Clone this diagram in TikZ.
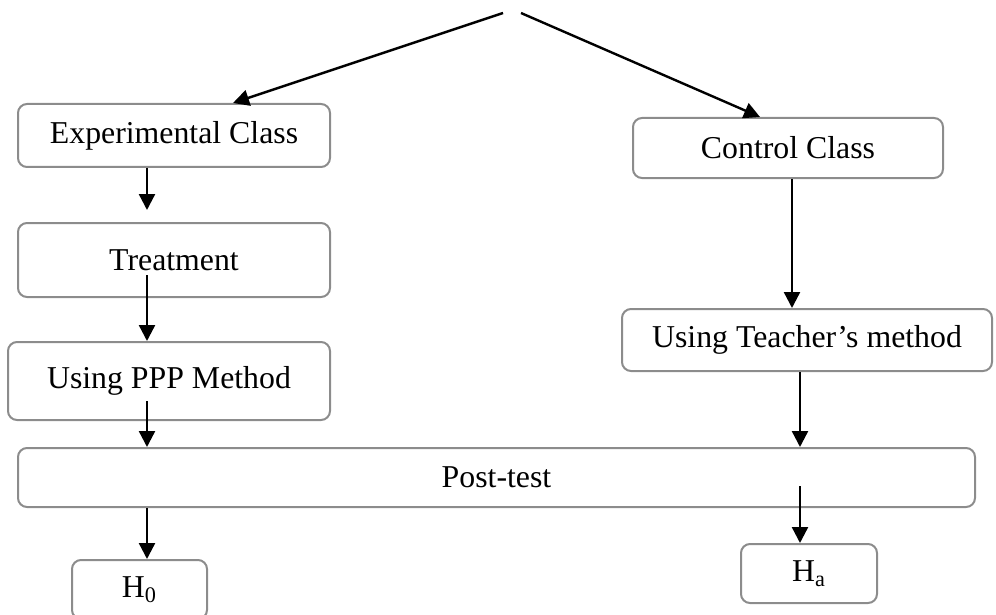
\documentclass[tikz,border=0pt]{standalone}
\usepackage{fontspec}
\setmainfont{Liberation Serif}
\usetikzlibrary{arrows.meta}

\begin{document}
\begin{tikzpicture}[x=0.5pt, y=-0.5pt,
    stage/.style={draw=gray!90, line width=1pt, rounded corners=4.5pt, inner sep=0pt, fill=white,
        font=\fontsize{15.9}{19}\selectfont},
    flow/.style={line width=1.2pt, -{Triangle[width=8pt, length=8pt]}}]
                \useasboundingbox (0,0) rectangle (996,615);
                \node[stage, minimum width=156pt, minimum height=31.5pt] (exp) at (174,135.5) {Experimental Class};
                \node[stage, minimum width=156pt, minimum height=37pt] (treat) at (174,260) {Treatment};
                \node[stage, minimum width=161pt, minimum height=39pt] (ppp) at (169,381) {Using PPP Method};
                \node[stage, minimum width=155pt, minimum height=30pt] (ctrl) at (788,148) {Control Class};
                \node[stage, minimum width=185pt, minimum height=31pt] (teach) at (807,340) {Using Teacher’s method};
                \node[stage, minimum width=478.5pt, minimum height=29.5pt] (post) at (496.5,477.5) {Post-test};
                \node[stage, minimum width=67.5pt, minimum height=29.5pt] (h0) at (139.5,589.5) {H\textsubscript{0}};
                \node[stage, minimum width=68pt, minimum height=29.5pt] (ha) at (809,573.5) {H\textsubscript{a}};
                \coordinate (topL) at (503,13);
                \coordinate (topR) at (521,13);
                \coordinate (lcol) at (147,0);
                \coordinate (rcol) at (792,0);
                \coordinate (pcol) at (800,0);
                \draw[flow] (topL) -- ([xshift=29.5pt]exp.north);
                \draw[flow] (topR) -- ([xshift=-14pt]ctrl.north);
                \draw[flow] (exp.south -| lcol) -- ([yshift=6pt]treat.north -| lcol);
                \draw[flow] ([yshift=11.5pt]treat.south -| lcol) -- (ppp.north -| lcol);
                \draw[flow] ([yshift=10pt]ppp.south -| lcol) -- (post.north -| lcol);
                \draw[flow] (post.south -| lcol) -- (h0.north -| lcol);
                \draw[flow] (ctrl.south -| rcol) -- (teach.north -| rcol);
                \draw[flow] (teach.south -| pcol) -- (post.north -| pcol);
                \draw[flow] ([yshift=11pt]post.south -| pcol) -- (ha.north -| pcol);
            \end{tikzpicture}
\end{document}
